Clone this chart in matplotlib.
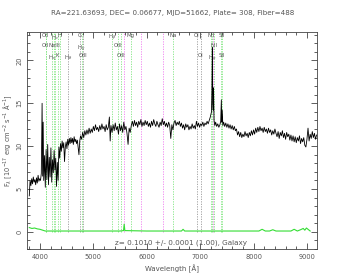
import matplotlib
matplotlib.use("Agg")
import matplotlib.pyplot as plt
from matplotlib.ticker import MultipleLocator

# spectrum (wavelength in A, flux in 1e-17 units)
wave = [3800, 3815, 3830, 3845, 3860, 3875, 3890, 3905, 3920, 3935, 3950, 3965, 3980, 3995,
        4010, 4025, 4040, 4050, 4060, 4070, 4085, 4100, 4115, 4130, 4145, 4160, 4175, 4190,
        4205, 4220, 4235, 4250, 4265, 4280, 4295, 4310, 4325, 4340, 4355, 4370, 4385, 4400,
        4415, 4430, 4445, 4460, 4475, 4490, 4505, 4520, 4535, 4550, 4565, 4580, 4595, 4610,
        4625, 4640, 4655, 4670, 4685, 4700, 4715, 4730, 4745, 4760, 4780, 4800, 4820, 4840,
        4860, 4880, 4900, 4920, 4940, 4960, 4980, 5000, 5020, 5040, 5060, 5080, 5100, 5120,
        5140, 5160, 5180, 5200, 5220, 5240, 5260, 5280, 5300, 5315, 5330, 5350, 5370, 5390,
        5410, 5430, 5450, 5470, 5490, 5510, 5530, 5550, 5570, 5590, 5610, 5630, 5650, 5670,
        5690, 5710, 5730, 5750, 5770, 5790, 5810, 5830, 5850, 5870, 5890, 5910, 5930, 5950,
        5970, 5990, 6010, 6030, 6050, 6070, 6090, 6110, 6130, 6150, 6170, 6190, 6210, 6230,
        6250, 6270, 6290, 6310, 6330, 6350, 6370, 6390, 6410, 6430, 6450, 6470, 6490, 6510,
        6530, 6550, 6570, 6590, 6610, 6630, 6650, 6670, 6690, 6710, 6730, 6750, 6770, 6790,
        6810, 6830, 6850, 6870, 6890, 6910, 6930, 6950, 6970, 6990, 7010, 7030, 7050, 7070,
        7090, 7110, 7130, 7150, 7170, 7190, 7205, 7212, 7220, 7228, 7236, 7244, 7251, 7260,
        7275, 7290, 7310, 7330, 7350, 7370, 7385, 7397, 7405, 7413, 7425, 7440, 7460, 7480,
        7500, 7520, 7540, 7560, 7580, 7600, 7620, 7640, 7660, 7680, 7700, 7720, 7740, 7760,
        7780, 7800, 7820, 7840, 7860, 7880, 7900, 7920, 7940, 7960, 7980, 8000, 8020, 8040,
        8060, 8080, 8100, 8120, 8140, 8160, 8180, 8200, 8220, 8240, 8260, 8280, 8300, 8320,
        8340, 8360, 8380, 8400, 8420, 8440, 8460, 8480, 8500, 8520, 8540, 8560, 8580, 8600,
        8620, 8640, 8660, 8680, 8700, 8720, 8740, 8760, 8780, 8800, 8820, 8840, 8860, 8880,
        8900, 8920, 8940, 8960, 8980, 9000, 9020, 9040, 9060, 9080, 9100, 9120, 9140, 9160,
        9180]
flux = [4.2, 6.0, 5.4, 6.2, 5.6, 6.4, 5.8, 6.1, 5.5, 6.3, 5.7, 6.6, 5.9, 6.2,
        6.0, 6.8, 15.0, 6.5, 12.8, 6.0, 8.9, 5.2, 9.6, 6.1, 10.2, 5.5, 8.7, 6.4,
        9.8, 5.8, 8.4, 6.9, 9.5, 7.2, 8.6, 5.3, 8.1, 6.0, 9.9, 8.6, 10.3, 9.4,
        10.6, 9.8, 10.4, 8.2, 9.9, 10.5, 9.7, 10.8, 10.1, 10.9, 10.3, 11.0, 10.4, 10.9,
        10.2, 11.1, 10.5, 10.8, 10.3, 10.7, 9.8, 9.0, 10.6, 11.2, 10.8, 11.6, 11.0, 11.8,
        11.3, 11.9, 11.4, 12.1, 11.5, 12.0, 11.6, 12.3, 11.8, 12.5, 11.9, 12.2, 11.7, 12.4,
        11.9, 12.6, 12.0, 12.3, 11.7, 12.5, 11.9, 12.2, 13.4, 10.6, 12.4, 11.6, 12.5, 11.8,
        12.7, 11.9, 12.3, 11.4, 12.6, 11.8, 12.4, 11.6, 12.8, 11.9, 12.3, 11.5, 10.2, 12.1,
        11.6, 12.4, 12.9, 12.3, 13.0, 12.4, 12.8, 12.2, 12.9, 12.5, 13.1, 12.3, 12.8, 12.4,
        13.0, 12.5, 12.9, 12.3, 12.7, 12.2, 12.9, 12.4, 13.1, 12.6, 12.3, 12.9, 12.5, 12.2,
        12.8, 12.4, 13.2, 12.5, 12.9, 12.3, 12.7, 12.2, 12.8, 12.4, 10.9, 12.5, 11.9, 12.7,
        13.0, 12.4, 12.8, 12.5, 12.9, 12.3, 12.7, 12.1, 12.5, 11.9, 12.6, 12.2, 12.5, 11.9,
        12.3, 12.0, 12.6, 12.1, 12.4, 12.0, 12.9, 12.3, 12.7, 12.2, 12.6, 12.4, 12.8, 12.3,
        12.7, 12.5, 12.9, 12.6, 13.0, 13.4, 13.8, 14.0, 16.5, 21.5, 15.0, 14.2, 16.8, 13.0,
        12.4, 12.8, 12.3, 12.6, 12.2, 12.5, 12.9, 15.4, 12.8, 14.2, 12.4, 12.8, 12.3, 12.7,
        12.2, 12.6, 12.1, 12.5, 12.0, 12.4, 11.9, 12.3, 11.8, 12.0, 11.3, 11.7, 11.1, 11.6,
        11.0, 11.4, 11.1, 11.7, 11.2, 11.5, 11.0, 11.6, 11.2, 11.8, 11.3, 11.9, 11.4, 12.1,
        11.6, 12.2, 11.7, 12.3, 11.8, 12.1, 11.6, 12.2, 11.7, 12.0, 11.5, 12.1, 11.6, 11.9,
        11.3, 11.8, 11.4, 12.0, 11.5, 11.1, 11.7, 10.9, 11.6, 11.2, 11.8, 11.0, 11.5, 10.8,
        11.6, 11.1, 11.4, 10.7, 11.3, 10.6, 11.2, 10.5, 11.1, 10.4, 11.0, 10.6, 11.2, 10.3,
        10.9, 10.5, 11.0, 10.1, 9.9, 10.8, 12.1, 10.6, 11.4, 10.9, 11.7, 11.0, 11.5, 10.8,
        11.3]

# error spectrum (green, near zero)
err_wave = [3800, 3850, 3900, 3950, 4000, 4050, 4100, 4500, 5000, 5500, 5565, 5577, 5590,
            6000, 6650, 6680, 6710, 7000, 7500, 8100, 8160, 8220, 8300, 8360, 8420, 8500,
            8700, 8760, 8820, 8880, 8930, 8960, 8990, 9060]
err = [0.5, 0.4, 0.45, 0.35, 0.3, 0.2, 0.1, 0.1, 0.1, 0.1, 0.15, 0.9, 0.15,
       0.1, 0.1, 0.3, 0.1, 0.1, 0.1, 0.1, 0.3, 0.1, 0.1, 0.25, 0.1, 0.1,
       0.1, 0.3, 0.1, 0.25, 0.4, 0.2, 0.45, 0.1]

z = 0.1014
# rest wavelength, label, row, kind
line_wave = [3727, 3729, 3835, 3869, 3889, 3934, 3969, 4102, 4304, 4341, 4363,
             4861, 4959, 5007, 5175, 5894, 6300, 6363, 6548, 6563, 6583, 6716, 6731]
line_label = ["OII", "OII", r"H$_\eta$", "NeIII", r"H$_\epsilon$", "K", "H", r"H$_\delta$",
              "G", r"H$_\gamma$", "OIII", r"H$_\beta$", "OIII", "OIII", "Mg", "Na",
              "OI", "OI", "NII", r"H$_\alpha$", "NII", "SII", "SII"]
line_row = [0, 1, 2, 1, 0, 2, 0, 2, 0, 1, 2, 0, 1, 2, 0, 0, 0, 2, 0, 2, 1, 0, 2]
line_kind = ["em", "em", "em", "em", "em", "em", "em", "abs", "abs", "em", "abs",
             "em", "em", "em", "em", "em", "abs", "abs", "em", "em", "em", "em", "em"]
sky_wave = [5577, 5890, 6300, 7244]

colors = {"em": "#7fe57f", "abs": "#999999"}
tcol = "#555555"

fig = plt.figure(figsize=(3.46, 2.77), dpi=100)
ax = fig.add_axes([0.078, 0.101, 0.838, 0.783])

for lw0, kind in zip(line_wave, line_kind):
    ax.plot([lw0 * (1 + z)] * 2, [0, 23.3], color=colors[kind], lw=0.6, ls=(0, (1.5, 1.5)), zorder=1)
for s in sky_wave:
    ax.plot([s, s], [0, 23.3], color="#f07ff0", lw=0.6, ls=(0, (1.5, 1.5)), zorder=1)

rows_y = [0.997, 0.948, 0.902]
for lw0, lab, r in zip(line_wave, line_label, line_row):
    ax.text(lw0 * (1 + z), rows_y[r], lab, transform=ax.get_xaxis_transform(),
            ha="center", va="top", fontsize=3.9, color=tcol)

ax.plot(err_wave, err, color="#33dd33", lw=0.8, zorder=2)
ax.plot(wave, flux, color="black", lw=0.6, zorder=3)

ax.text(0.53, 0.03, "z= 0.1010 +/- 0.0001 (1.00), Galaxy", transform=ax.transAxes,
        ha="center", va="center", fontsize=5.2, color=tcol)

ax.set_xlim(3757, 9187)
ax.set_ylim(-2, 23.3)
ax.xaxis.set_major_locator(MultipleLocator(1000))
ax.xaxis.set_minor_locator(MultipleLocator(200))
ax.yaxis.set_major_locator(MultipleLocator(5))
ax.yaxis.set_minor_locator(MultipleLocator(1))
ax.tick_params(which="both", direction="in", top=True, right=True, colors="#444444",
               labelsize=4.8, labelcolor=tcol, width=0.6)
ax.tick_params(which="major", length=4)
ax.tick_params(which="minor", length=2)
for lab in ax.get_yticklabels():
    lab.set_rotation(90)
    lab.set_va("center")
for sp in ax.spines.values():
    sp.set_linewidth(0.6)
    sp.set_color("#444444")

ax.set_xlabel("Wavelength [Å]", fontsize=5.0, color=tcol, labelpad=3)
ax.set_ylabel(r"F$_\lambda$ [10$^{-17}$ erg cm$^{-2}$ s$^{-1}$ Å$^{-1}$]", fontsize=4.8,
              color=tcol, labelpad=1.5)
fig.text(0.5, 0.953, "RA=221.63693, DEC= 0.06677, MJD=51662, Plate= 308, Fiber=488",
         ha="center", va="center", fontsize=5.1, color=tcol)

fig.savefig("out.png", dpi=100)
